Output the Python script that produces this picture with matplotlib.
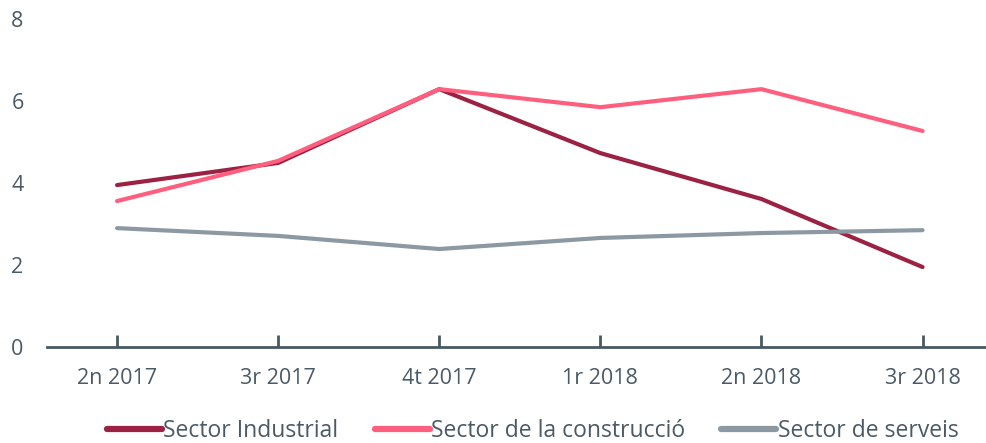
import matplotlib.pyplot as plt

quarters = ["2n 2017", "3r 2017", "4t 2017", "1r 2018", "2n 2018", "3r 2018"]
industrial = [3.95, 4.49, 6.29, 4.73, 3.61, 1.95]
construccio = [3.56, 4.54, 6.29, 5.85, 6.29, 5.27]
serveis = [2.90, 2.71, 2.39, 2.66, 2.78, 2.85]
yticks = [0, 2, 4, 6, 8]

plt.rcParams['font.family'] = ['Open Sans', 'DejaVu Sans']
txt = '#4a5a66'

fig = plt.figure(figsize=(9.87, 4.43), dpi=100)
ax = fig.add_axes([0.0476, 0.2167, 0.9524, 0.7403])

x = range(len(quarters))
ax.plot(x, industrial, color='#9b2242', lw=3, label='Sector Industrial', solid_capstyle='round')
ax.plot(x, construccio, color='#ff5f7e', lw=3, label='Sector de la construcció', solid_capstyle='round')
ax.plot(x, serveis, color='#8c99a3', lw=3, label='Sector de serveis', solid_capstyle='round')

ax.set_xlim(-0.435, 5.4)
ax.set_ylim(0, 8)
ax.set_xticks(list(x))
ax.set_xticklabels(quarters)
ax.set_yticks(yticks)

for s in ['top', 'right', 'left']:
    ax.spines[s].set_visible(False)
ax.spines['bottom'].set_color('#465a64')
ax.spines['bottom'].set_linewidth(2)
ax.tick_params(axis='x', direction='in', length=9, width=2, color='#465a64',
               labelsize=15.5, labelcolor=txt, pad=15)
ax.tick_params(axis='y', length=0, labelsize=15.5, labelcolor=txt, pad=0)
for lab in ax.get_yticklabels():
    lab.set_horizontalalignment('left')
    lab.set_x(-0.038)

# legend sits at the bottom edge like the original, kept just inside
leg = fig.legend(loc='lower center', bbox_to_anchor=(0.5395, -0.047), ncol=3, frameon=False,
                 fontsize=16.5, handlelength=2.4, handletextpad=0.05, columnspacing=1.6)
for t in leg.get_texts():
    t.set_color(txt)
for h in leg.get_lines():
    h.set_linewidth(4.5)

fig.savefig('out.png')
